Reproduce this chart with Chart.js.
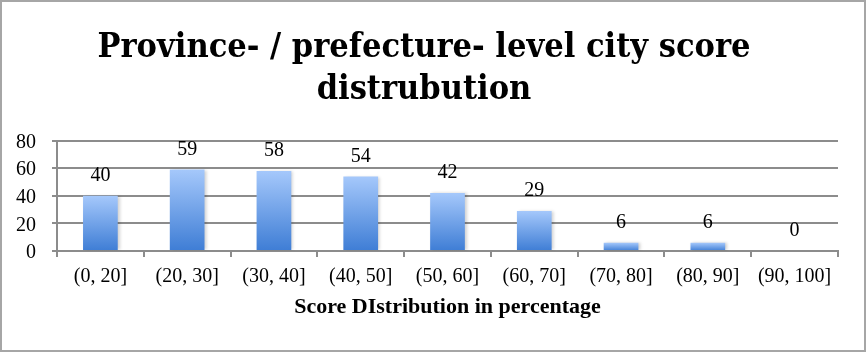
<!DOCTYPE html>
<html>
<head>
<meta charset="utf-8">
<script src="https://cdn.jsdelivr.net/npm/chart.js@4/dist/chart.umd.min.js"></script>
<style>
  html, body { margin: 0; padding: 0; background: #fff; }
  #wrap { width: 867px; height: 353px; position: relative; }
</style>
</head>
<body>
<div id="wrap"><canvas id="chart" width="867" height="353"></canvas></div>
<script>
// Score distribution, bar chart with value labels

const categories = ['(0, 20]', '(20, 30]', '(30, 40]', '(40, 50]', '(50, 60]', '(60, 70]', '(70, 80]', '(80, 90]', '(90, 100]'];
const cityCounts = [40, 59, 58, 54, 42, 29, 6, 6, 0];
const yTicks = [0, 20, 40, 60, 80];

const titleLines = ['Province- / prefecture- level city score', 'distrubution'];
const xTitle = 'Score DIstribution in percentage';

const SERIF = "'Liberation Serif', 'DejaVu Serif', serif";
const TITLE_FONT = "'DejaVu Serif Condensed', " + SERIF;

// light blue at top of each bar, darker at the base
const barGradient = ctx => {
	const chart = ctx.chart;
	const y = chart.scales && chart.scales.y;
	if (!y || ctx.raw === undefined) return '#6fa3ea';
	const top = y.getPixelForValue(ctx.raw);
	const base = y.getPixelForValue(0);
	if (!isFinite(top) || !isFinite(base)) return '#6fa3ea';
	const g = chart.ctx.createLinearGradient(0, top, 0, Math.max(base, top + 1));
	g.addColorStop(0, '#a5c8fb');
	g.addColorStop(1, '#3e7dd5');
	return g;
};

const barDecor = {
	id: 'barDecor',
	beforeDatasetsDraw(chart) {
		const c = chart.ctx;
		c.save();
		c.shadowColor = 'rgba(0,0,0,0.18)';
		c.shadowBlur = 3;
		c.shadowOffsetX = 2;
		c.shadowOffsetY = 0;
	},
	afterDatasetsDraw(chart) {
		const c = chart.ctx;
		c.restore();
		// value labels above bars
		const meta = chart.getDatasetMeta(0);
		c.save();
		c.font = '20px ' + SERIF;
		c.fillStyle = '#000';
		c.textAlign = 'center';
		c.textBaseline = 'middle';
		meta.data.forEach((bar, i) => {
			c.fillText(String(cityCounts[i]), bar.x, bar.y - 20);
		});
		c.restore();
	},
	afterDraw(chart) {
		// outer frame
		const c = chart.ctx;
		c.save();
		c.strokeStyle = '#a6a6a6';
		c.lineWidth = 2;
		c.strokeRect(1, 1, 864, 350);
		c.restore();
	}
};

new Chart(document.getElementById('chart'), {
	type: 'bar',
	data: {
		labels: categories,
		datasets: [
			{
				label: 'Cities',
				data: cityCounts,
				backgroundColor: barGradient,
				borderWidth: 0,
				categoryPercentage: 1,
				barPercentage: 0.4
			}
		]
	},
	options: {
		responsive: false,
		animation: false,
		devicePixelRatio: 1,
		layout: { padding: { top: 0, left: 10, right: 29, bottom: 0 } },
		plugins: {
			legend: { display: false },
			tooltip: { enabled: false },
			title: {
				display: true,
				text: titleLines,
				color: '#000',
				font: { family: TITLE_FONT, size: 34, weight: 'bold', lineHeight: 1.23 },
				padding: { top: 27, bottom: 30 }
			}
		},
		scales: {
			x: {
				grid: { drawOnChartArea: false, drawTicks: true, tickLength: 6, color: '#8c8c8c', lineWidth: 2 },
				border: { color: '#8c8c8c', width: 2 },
				ticks: { color: '#000', font: { family: SERIF, size: 20 }, padding: 8, maxRotation: 0 },
				title: {
					display: true,
					text: xTitle,
					color: '#000',
					font: { family: SERIF, size: 22, weight: 'bold', lineHeight: 1.2 },
					padding: { top: 0, bottom: 32 }
				},
				afterFit: s => { s.height = 102; }
			},
			y: {
				min: 0,
				max: 80,
				afterBuildTicks: s => { s.ticks = yTicks.map(v => ({ value: v })); },
				grid: { color: '#8c8c8c', lineWidth: 2, tickLength: 5 },
				border: { color: '#8c8c8c', width: 2 },
				ticks: { color: '#000', font: { family: SERIF, size: 20 }, padding: 16, labelOffset: 2 },
				afterFit: s => { s.width = 47; }
			}
		}
	},
	plugins: [barDecor]
});
</script>
</body>
</html>
